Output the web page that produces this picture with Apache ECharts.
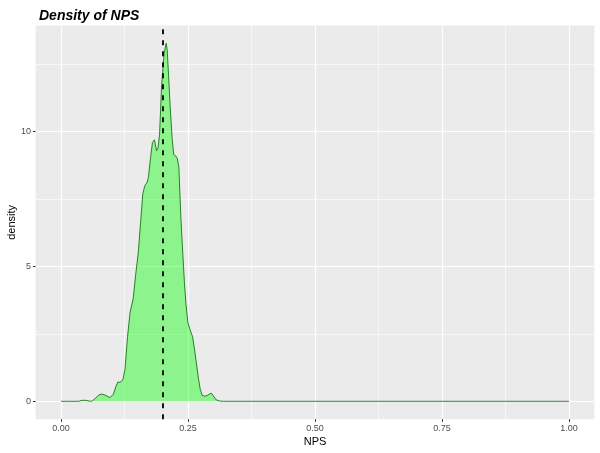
<!DOCTYPE html>
<html>
<head>
<meta charset="utf-8">
<script src="https://cdn.jsdelivr.net/npm/echarts@6/dist/echarts.min.js"></script>
<style>
html,body{margin:0;padding:0;background:#fff;}
#chart{width:600px;height:453px;}
</style>
</head>
<body>
<div id="chart"></div>
<script>
// NPS values and estimated density
const npsValues = [0.0,0.035,0.04,0.047,0.05,0.058,0.062,0.068,0.075,0.08,0.088,0.096,0.103,0.108,0.112,0.116,0.119,0.122,0.126,0.131,0.136,0.142,0.147,0.152,0.157,0.161,0.165,0.169,0.172,0.176,0.180,0.184,0.188,0.191,0.194,0.198,0.203,0.207,0.209,0.212,0.215,0.219,0.222,0.226,0.229,0.232,0.236,0.240,0.243,0.246,0.250,0.255,0.259,0.263,0.267,0.271,0.274,0.278,0.283,0.288,0.292,0.296,0.300,0.305,0.312,0.32,1.0];
const densityValues = [0,0,0.03,0.04,0.02,0,0.02,0.12,0.24,0.27,0.22,0.14,0.25,0.55,0.72,0.70,0.64,0.8,1.2,2.4,3.3,3.8,4.7,5.5,6.7,7.7,8.0,8.1,8.3,9.0,9.6,9.7,9.3,9.4,9.9,11.7,12.9,13.28,13.05,12.0,10.9,9.7,9.15,9.1,9.0,8.7,6.8,5.4,4.4,3.6,2.9,2.6,2.4,1.9,1.35,0.8,0.45,0.22,0.19,0.22,0.27,0.3,0.2,0.06,0.01,0,0];
const meanNPS = 0.195;
const xMajorTicks = [0, 0.25, 0.5, 0.75, 1.0];
const xMinorTicks = [0.125, 0.375, 0.625, 0.875];
const yMajorTicks = [0, 5, 10];
const yMinorTicks = [2.5, 7.5, 12.5];

const xMin = -0.05, xMax = 1.05;
const yMin = -0.664, yMax = 13.94;

const FONT = '"Liberation Sans", Arial, sans-serif';
const chart = echarts.init(document.getElementById('chart'), null, {renderer: 'canvas'});

const axisBaseX = {
  type: 'value', min: xMin, max: xMax, position: 'bottom',
  axisLine: {show: false, onZero: false}
};
const axisBaseY = {
  type: 'value', min: yMin, max: yMax, position: 'left',
  axisLine: {show: false, onZero: false}
};

chart.setOption({
  animation: false,
  backgroundColor: '#ffffff',
  title: {
    text: 'Density of NPS', left: 34, top: 4,
    textStyle: {fontFamily: FONT, fontSize: 14, fontWeight: 'bold', fontStyle: 'italic', color: '#000'}
  },
  grid: {
    left: 35.6, right: 5.6, top: 25.5, bottom: 33.8,
    containLabel: false, outerBoundsMode: 'none',
    show: true, backgroundColor: '#EBEBEB', borderWidth: 0
  },
  xAxis: [
    Object.assign({}, axisBaseX, {
      name: 'NPS', nameLocation: 'middle', nameGap: 17, nameMoveOverlap: false,
      nameTextStyle: {fontFamily: FONT, fontSize: 11, color: '#000'},
      axisTick: {show: true, length: 2.7, lineStyle: {color: '#333', width: 1}, customValues: xMajorTicks},
      axisLabel: {show: true, margin: 5, customValues: xMajorTicks, fontFamily: FONT, fontSize: 9, color: '#4D4D4D',
        formatter: v => v.toFixed(2)},
      splitLine: {show: true, lineStyle: {color: '#ffffff', width: 1.2}}
    }),
    Object.assign({}, axisBaseX, {
      axisTick: {show: false, customValues: xMinorTicks},
      axisLabel: {show: false, customValues: xMinorTicks},
      splitLine: {show: true, lineStyle: {color: '#ffffff', width: 0.6}}
    })
  ],
  yAxis: [
    Object.assign({}, axisBaseY, {
      name: 'density', nameLocation: 'middle', nameGap: 18, nameMoveOverlap: false,
      nameTextStyle: {fontFamily: FONT, fontSize: 11, color: '#000'},
      axisTick: {show: true, length: 2.7, lineStyle: {color: '#333', width: 1}, customValues: yMajorTicks},
      axisLabel: {show: true, margin: 4.5, customValues: yMajorTicks, fontFamily: FONT, fontSize: 9, color: '#4D4D4D',
        formatter: v => String(v)},
      splitLine: {show: true, lineStyle: {color: '#ffffff', width: 1.2}}
    }),
    Object.assign({}, axisBaseY, {
      axisTick: {show: false, customValues: yMinorTicks},
      axisLabel: {show: false, customValues: yMinorTicks},
      splitLine: {show: true, lineStyle: {color: '#ffffff', width: 0.6}}
    })
  ],
  series: [{
    type: 'line',
    xAxisIndex: 0, yAxisIndex: 0,
    data: npsValues.map((x, i) => [x, densityValues[i]]),
    showSymbol: false, symbol: 'none', smooth: false,
    lineStyle: {color: '#006400', width: 0.8},
    areaStyle: {color: 'rgb(0,255,0)', opacity: 0.4},
    markLine: {
      silent: true, symbol: 'none', label: {show: false},
      lineStyle: {color: '#000', type: [5, 6], width: 1.8},
      data: [{xAxis: meanNPS}]
    }
  }]
});
</script>
</body>
</html>
